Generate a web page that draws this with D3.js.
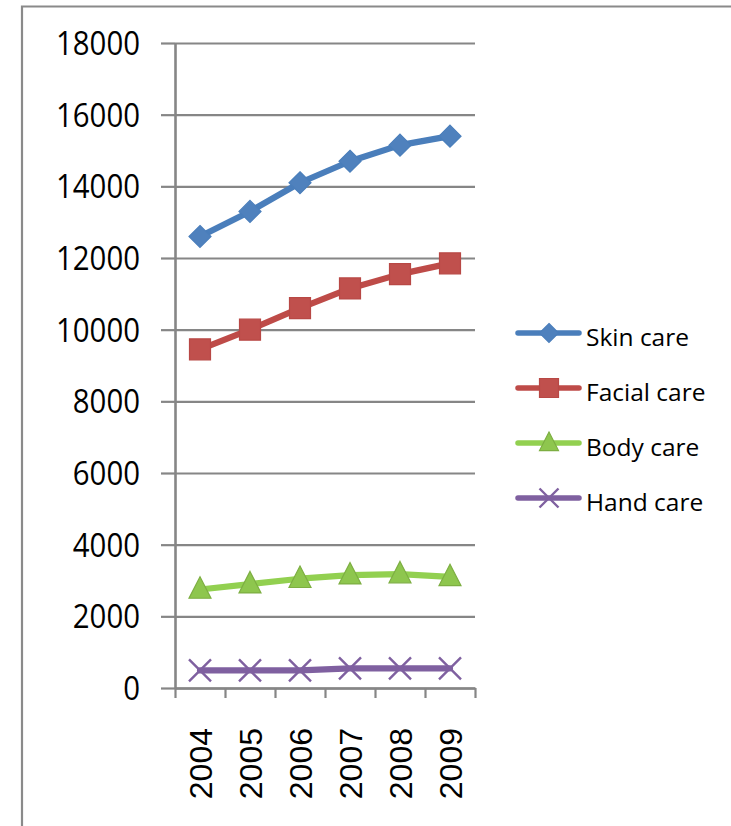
<!DOCTYPE html>
<html>
<head>
<meta charset="utf-8">
<script src="https://cdn.jsdelivr.net/npm/d3@7"></script>
<style>
  html, body { margin: 0; padding: 0; background: #ffffff; }
  svg { display: block; }
</style>
</head>
<body>
<script>
// Categories and series values (sales by segment)
const years = ["2004", "2005", "2006", "2007", "2008", "2009"];
const skinCare   = [12600, 13300, 14100, 14700, 15150, 15400];
const facialCare = [9450, 10000, 10600, 11150, 11550, 11850];
const bodyCare   = [2750, 2900, 3050, 3150, 3180, 3100];
const handCare   = [490, 490, 490, 550, 550, 550];
const seriesNames = ["Skin care", "Facial care", "Body care", "Hand care"];
const yTicks = [0, 2000, 4000, 6000, 8000, 10000, 12000, 14000, 16000, 18000];

const W = 731, H = 826;
const plot = { left: 175, right: 475, top: 43, bottom: 688 };

const svg = d3.select("body").append("svg")
  .attr("width", W).attr("height", H);

svg.append("rect").attr("width", W).attr("height", H).attr("fill", "#fff");

// Chart area frame (runs past the right and bottom edges)
svg.append("path")
  .attr("d", `M22,${H + 5} L22,6.5 L${W + 5},6.5`)
  .attr("fill", "none").attr("stroke", "#8a8a8a").attr("stroke-width", 2.2);

const y = d3.scaleLinear().domain([0, 18000]).range([plot.bottom, plot.top]);
const x = d3.scaleBand().domain(years).range([plot.left, plot.right]);
const xc = d => x(d) + x.bandwidth() / 2;
const xEdge = d3.scaleLinear().domain([0, years.length]).range([plot.left, plot.right]);

const gridColor = "#868686";

// Horizontal gridlines
svg.append("g")
  .attr("transform", `translate(${plot.left},0)`)
  .call(d3.axisLeft(y).tickValues(yTicks).tickSize(-(plot.right - plot.left)).tickFormat(""))
  .call(g => g.select(".domain").remove())
  .call(g => g.selectAll(".tick line").attr("stroke", gridColor).attr("stroke-width", 2.2));

// Y axis with outside ticks and labels
const yAxis = svg.append("g")
  .attr("transform", `translate(${plot.left},0)`)
  .call(d3.axisLeft(y).tickValues(yTicks).tickSize(14).tickPadding(21).tickSizeOuter(0).tickFormat(d3.format("d")));
yAxis.select(".domain").attr("stroke", gridColor).attr("stroke-width", 2.6);
yAxis.selectAll(".tick line").attr("stroke", gridColor).attr("stroke-width", 2.2);
yAxis.selectAll(".tick text")
  .attr("font-family", "'Open Sans', sans-serif")
  .attr("font-size", 32)
  .attr("fill", "#000")
  .attr("dy", "0.36em")
  .attr("textLength", function(d) { return String(d).length * 16.8; })
  .attr("lengthAdjust", "spacingAndGlyphs");

// X axis: tick marks at category boundaries
const xAxis = svg.append("g")
  .attr("transform", `translate(0,${plot.bottom})`)
  .call(d3.axisBottom(xEdge).tickValues(d3.range(years.length + 1)).tickSize(10).tickSizeOuter(0).tickFormat(""));
xAxis.select(".domain").attr("stroke", gridColor).attr("stroke-width", 2.4);
xAxis.selectAll(".tick line").attr("stroke", gridColor).attr("stroke-width", 2.2);

// X axis category labels, rotated
const xLabels = svg.append("g")
  .attr("transform", `translate(0,${plot.bottom})`)
  .call(d3.axisBottom(x).tickSize(0).tickSizeOuter(0));
xLabels.select(".domain").remove();
xLabels.selectAll(".tick text")
  .attr("font-family", "'Liberation Sans', Arial, sans-serif")
  .attr("font-size", 32)
  .attr("fill", "#000")
  .attr("transform", "rotate(-90)")
  .attr("text-anchor", "end")
  .attr("x", -40)
  .attr("y", 0)
  .attr("dy", "0.36em");

// Marker shapes
const markerPaths = {
  diamond: s => `M0,${-s} L${s},0 L0,${s} L${-s},0 Z`,
  square: s => `M${-s},${-s} H${s} V${s} H${-s} Z`,
  triangle: s => `M0,${-s * 1.15} L${s},${s * 0.8} L${-s},${s * 0.8} Z`,
  cross: s => `M${-s},${-s} L${s},${s} M${s},${-s} L${-s},${s}`
};

const series = [
  { name: seriesNames[0], values: skinCare,   line: "#4A7EBB", fill: "#4F81BD", stroke: "#4A7EBB", shape: "diamond" },
  { name: seriesNames[1], values: facialCare, line: "#BE4B48", fill: "#C0504D", stroke: "#B84845", shape: "square" },
  { name: seriesNames[2], values: bodyCare,   line: "#92D050", fill: "#8EC64E", stroke: "#7DAE42", shape: "triangle" },
  { name: seriesNames[3], values: handCare,   line: "#7F60A0", fill: "none",    stroke: "#7F60A0", shape: "cross" }
];
const markerSize = { diamond: 11, square: 10.5, triangle: 11, cross: 11 };

const lineGen = d3.line().x(d => xc(d.year)).y(d => y(d.value));

function drawMarker(g, shape, s, s2) {
  const p = g.append("path").attr("d", markerPaths[shape](s));
  if (shape === "cross") {
    p.attr("fill", "none").attr("stroke", s2.stroke).attr("stroke-width", 2.4);
  } else {
    p.attr("fill", s2.fill).attr("stroke", s2.stroke).attr("stroke-width", 1.2);
  }
  return p;
}

series.forEach(s => {
  const pts = years.map((yr, i) => ({ year: yr, value: s.values[i] }));
  svg.append("path")
    .datum(pts)
    .attr("d", lineGen)
    .attr("fill", "none")
    .attr("stroke", s.line)
    .attr("stroke-width", 6.2)
    .attr("stroke-linejoin", "round")
    .attr("stroke-linecap", "round");
  pts.forEach(p => {
    const g = svg.append("g").attr("transform", `translate(${xc(p.year)},${y(p.value)})`);
    drawMarker(g, s.shape, markerSize[s.shape], s);
  });
});

// Legend
const legend = svg.append("g");
const legendRows = d3.scalePoint().domain(seriesNames).range([333, 498]);
series.forEach(s => {
  const ry = legendRows(s.name);
  legend.append("line")
    .attr("x1", 518).attr("x2", 579).attr("y1", ry).attr("y2", ry)
    .attr("stroke", s.line).attr("stroke-width", 5.5).attr("stroke-linecap", "round");
  const g = legend.append("g").attr("transform", `translate(549,${ry})`);
  drawMarker(g, s.shape, s.shape === "cross" ? 9.5 : 9.5, s);
  legend.append("text")
    .attr("x", 586).attr("y", ry + 12.7)
    .attr("font-family", "'Open Sans', sans-serif")
    .attr("font-size", 24.5)
    .attr("fill", "#000")
    .text(s.name);
});
</script>
</body>
</html>
